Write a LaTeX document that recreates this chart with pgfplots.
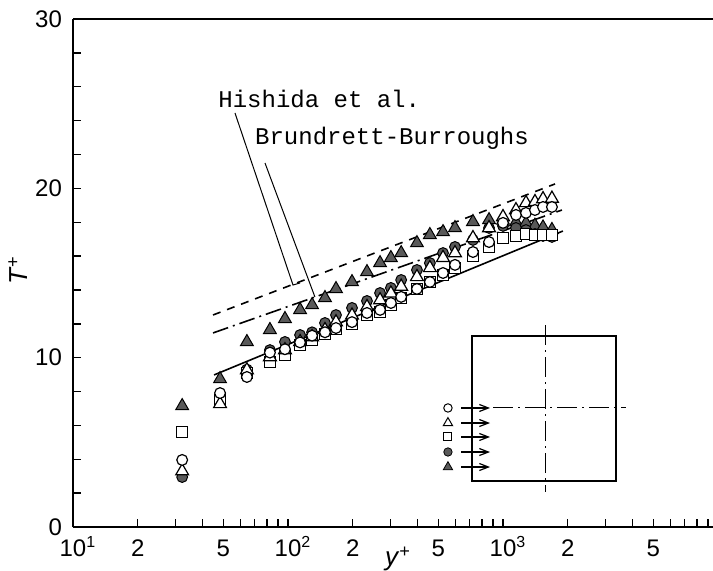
\documentclass[border=0pt]{standalone}
\usepackage{fontspec}
\setmainfont{Liberation Sans}
\newfontfamily\cour{Liberation Mono}
\usepackage{pgfplots}
\usepackage{pgfplotstable}
\pgfplotsset{compat=1.18}
\usetikzlibrary{arrows.meta}
\pgfplotstableread{
x ft ot oc os fc
32.2 7.15 3.3 3.96 5.6 2.95
48.3 8.74 7.27 7.91 7.5 7.6
64.4 10.93 9.27 8.86 9.1 9.3
82.4 11.64 10.04 10.3 9.75 10.45
96.8 12.29 10.45 10.5 10.15 10.93
113.8 12.82 10.93 10.9 10.75 11.34
129.4 13.11 11.22 11.3 11.05 11.5
148.6 13.53 11.64 11.5 11.4 12.05
167.2 14.06 12.1 11.75 11.7 12.52
198.5 14.47 12.5 12.1 12.0 12.94
233 15.06 13.0 12.64 12.5 13.35
268 15.59 13.4 12.82 12.7 13.82
301 15.89 13.8 13.23 13.1 14.12
336 16.18 14.2 13.59 13.5 14.59
398 16.77 14.77 14.06 14.06 15.18
457 17.25 15.3 14.47 14.47 15.59
526 17.42 15.9 15.0 14.9 16.18
598 17.66 16.18 15.48 15.3 16.54
725 18.02 17.07 16.24 16.0 16.95
861 18.13 17.66 16.83 16.54 17.66
1000 18.1 18.31 17.96 17.07 17.78
1149 18.0 18.72 18.43 17.19 17.66
1279 17.95 19.14 18.55 17.3 17.54
1408 17.8 19.2 18.72 17.25 17.3
1535 17.7 19.37 18.9 17.25 17.19
1689 17.55 19.4 18.9 17.25 17.13
}\data
\begin{document}
\begin{tikzpicture}
\path[use as bounding box] (-36.5pt,-21.5pt) rectangle (320pt,263.5pt);
\begin{axis}[
  at={(0,0)}, anchor=south west,
  width=320pt, height=254pt, scale only axis,
  xmode=log, xmin=10, xmax=9478, ymin=0, ymax=30,
  axis x line*=bottom, axis y line*=left,
  axis line style={line width=1pt, black},
  tick align=inside,
  xtick={10,20,50,100,200,500,1000,2000,5000},
  xticklabels={10\rlap{\textsuperscript{1}},2,5,10\rlap{\textsuperscript{2}},2,5,10\rlap{\textsuperscript{3}},2,5},
  minor xtick={30,40,60,70,80,90,300,400,600,700,800,900,3000,4000,6000,7000,8000,9000},
  ytick={0,10,20,30},
  minor ytick={2,4,6,8,12,14,16,18,22,24,26,28},
  major tick length=4pt, minor tick length=4pt,
  tick style={black, line width=0.7pt},
  /pgf/number format/assume math mode=true,
  ticklabel style={font=\fontsize{12}{13}\selectfont},
  xticklabel style={anchor=base, yshift=-14.5pt},
  yticklabel style={anchor=east, xshift=-2pt},
  clip=false,
]
% data
\addplot[only marks, mark=triangle*, mark size=3.7pt, mark options={fill=black!65, draw=black, line width=0.5pt}] table[x=x,y=ft]{\data};
\addplot[only marks, mark=*, mark size=2.7pt, mark options={fill=black!65, draw=black, line width=0.5pt}] table[x=x,y=fc]{\data};
\addplot[only marks, mark=square*, mark size=2.7pt, mark options={fill=white, draw=black, line width=0.6pt}] table[x=x,y=os]{\data};
\addplot[only marks, mark=triangle*, mark size=3.7pt, mark options={fill=white, draw=black, line width=0.6pt}] table[x=x,y=ot]{\data};
\addplot[only marks, mark=*, mark size=2.7pt, mark options={fill=white, draw=black, line width=0.6pt}] table[x=x,y=oc]{\data};
% correlation lines
\addplot[black, line width=0.8pt, dash pattern=on 4pt off 3.5pt] coordinates {(44.8,12.52) (1746,20.26)};
\addplot[black, line width=0.8pt, dash pattern=on 8pt off 2.5pt on 1pt off 2.5pt] coordinates {(44.8,11.46) (1880,18.72)};
\addplot[black, line width=0.8pt] coordinates {(45.3,8.98) (1900,17.48)};
% top frame line
\draw[line width=1pt] (rel axis cs:0,1) -- (rel axis cs:1,1);
% annotations
\node[anchor=base west, inner sep=0, font=\cour\fontsize{12}{14}\selectfont] at (rel axis cs:0.2266,0.825) {Hishida et al.};
\node[anchor=base west, inner sep=0, font=\cour\fontsize{12}{14}\selectfont] at (rel axis cs:0.284,0.752) {Brundrett-Burroughs};
\draw[line width=0.5pt] (rel axis cs:0.2531,0.815) -- (rel axis cs:0.34375,0.4764) -- (rel axis cs:0.3547,0.4803);
\draw[line width=0.5pt] (rel axis cs:0.3,0.7165) -- (rel axis cs:0.378,0.4528);
% axis labels
\node[font=\fontsize{13}{14}\selectfont, rotate=90] at (rel axis cs:-0.086,0.506) {\textit{T}\textsuperscript{+}};
\node[font=\fontsize{13}{14}\selectfont] at (rel axis cs:0.508,-0.063) {\textit{y}\textsuperscript{+}};
% inset
\draw[line width=0.7pt] (rel axis cs:0.6234,0.0906) rectangle (rel axis cs:0.8484,0.376);
\draw[line width=0.5pt, dash pattern=on 10pt off 2.5pt on 1pt off 2.5pt] (rel axis cs:0.7375,0.3976) -- (rel axis cs:0.7375,0.0689);
\draw[line width=0.5pt, dash pattern=on 10pt off 2.5pt on 1pt off 2.5pt] (rel axis cs:0.6063,0.2343) -- (rel axis cs:0.8641,0.2343);
\draw[line width=0.6pt, -{Straight Barb[length=4.5pt,width=3.5pt]}] (rel axis cs:0.6063,0.2343) -- (rel axis cs:0.6516,0.2343);
\draw[line width=0.6pt, -{Straight Barb[length=4.5pt,width=3.5pt]}] (rel axis cs:0.6063,0.2047) -- (rel axis cs:0.6516,0.2047);
\draw[line width=0.6pt, -{Straight Barb[length=4.5pt,width=3.5pt]}] (rel axis cs:0.6063,0.1772) -- (rel axis cs:0.6516,0.1772);
\draw[line width=0.6pt, -{Straight Barb[length=4.5pt,width=3.5pt]}] (rel axis cs:0.6063,0.1476) -- (rel axis cs:0.6516,0.1476);
\draw[line width=0.6pt, -{Straight Barb[length=4.5pt,width=3.5pt]}] (rel axis cs:0.6063,0.1181) -- (rel axis cs:0.6516,0.1181);
\addplot[only marks, mark=*, mark size=2.1pt, mark options={fill=white, draw=black, line width=0.5pt}] coordinates {(554.6,7.03)};
\addplot[only marks, mark=triangle*, mark size=2.7pt, mark options={fill=white, draw=black, line width=0.5pt}] coordinates {(554.6,6.14)};
\addplot[only marks, mark=square*, mark size=2pt, mark options={fill=white, draw=black, line width=0.5pt}] coordinates {(554.6,5.32)};
\addplot[only marks, mark=*, mark size=2.1pt, mark options={fill=black!65, draw=black, line width=0.4pt}] coordinates {(554.6,4.43)};
\addplot[only marks, mark=triangle*, mark size=2.7pt, mark options={fill=black!65, draw=black, line width=0.4pt}] coordinates {(554.6,3.54)};
\end{axis}
\end{tikzpicture}
\end{document}
